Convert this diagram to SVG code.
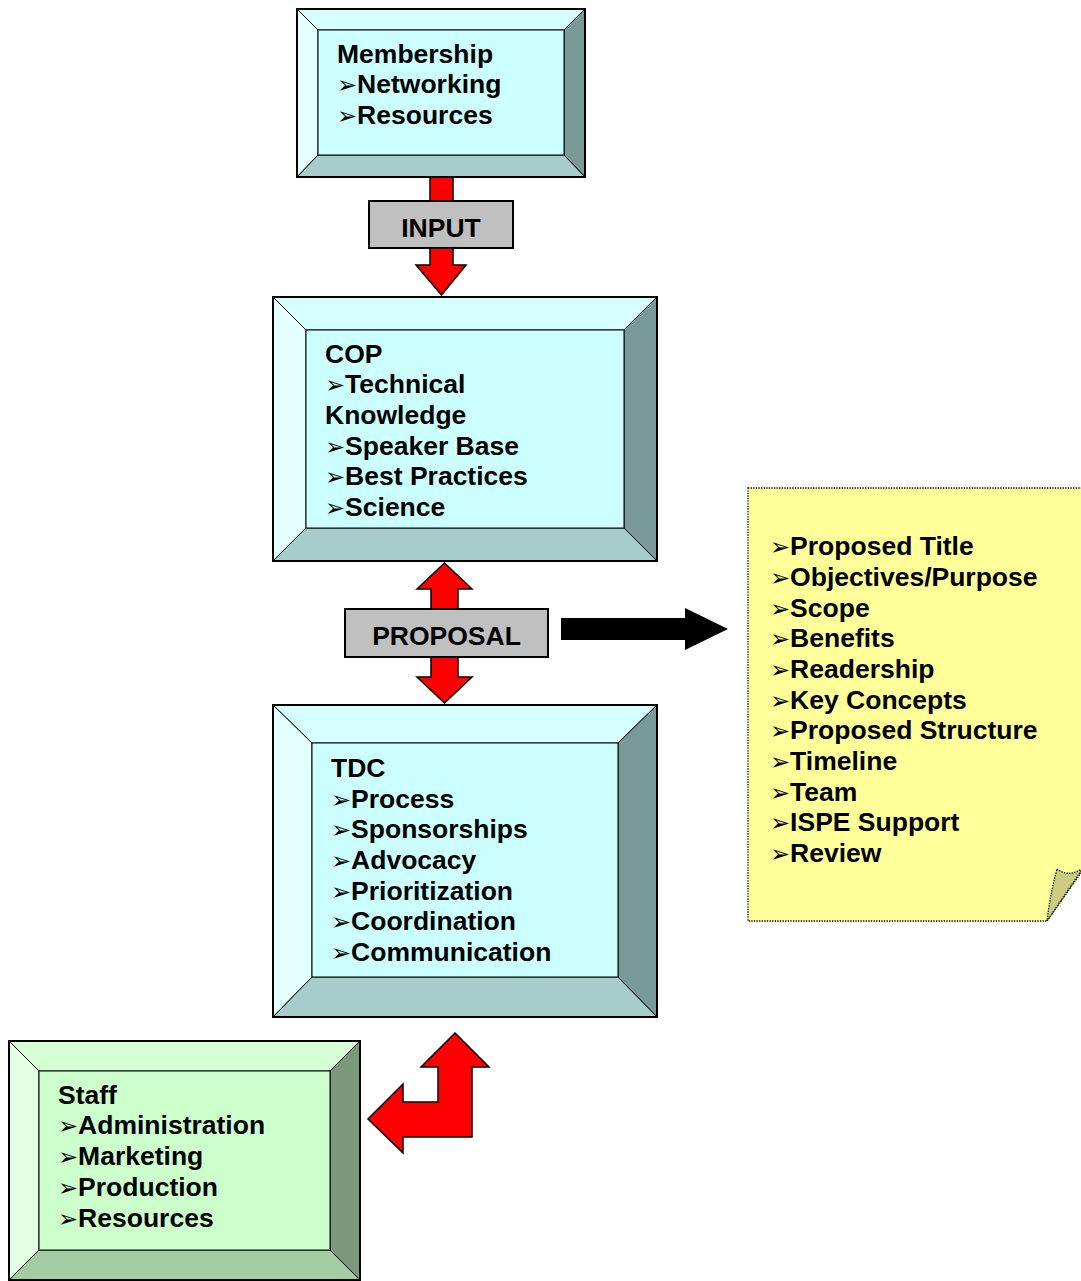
<svg xmlns="http://www.w3.org/2000/svg" width="1081" height="1281" viewBox="0 0 1081 1281">
<style>
text{font-family:"Liberation Sans",Arial,sans-serif;font-weight:bold;font-size:26.5px;fill:#000}
.b{font-family:"DejaVu Sans",sans-serif;font-weight:normal;font-size:24px}
.bev{stroke:#000;stroke-width:1}
.out{fill:none;stroke:#000;stroke-width:2}
.ct{fill:#d6ffff}.cl{fill:#e3ffff}.ci{fill:#ccffff}.cb{fill:#a6cccc}.cr{fill:#7a9999}
.gt{fill:#d6ffd6}.gl{fill:#e3ffe3}.gi{fill:#ccffcc}.gb{fill:#a3cca3}.gr{fill:#7a997a}
.red{fill:#ff0000;stroke:#000;stroke-width:1.5;stroke-linejoin:miter}
.lbl{fill:#c0c0c0;stroke:#000;stroke-width:2}
</style>
<rect width="1081" height="1281" fill="#fff"/>
<g id="connectors">
<polygon class="red" points="430,177 453,177 453,265 466,265 441.5,295 416,265 430,265"/>
<polygon class="red" points="444.5,563 472,589 458,589 458,677 472,677 444.5,703 417,677 431,677 431,589 417,589"/>
<polygon fill="#000" points="561,618 685,618 685,608 728,629 685,650 685,640 561,640"/>
<polygon class="red" points="455,1033 489,1067 472,1067 472,1137 403,1137 403,1153 368,1119 403,1084 403,1102 438,1102 438,1067 421,1067"/>
</g>
<g id="input">
<rect class="lbl" x="369" y="201" width="144" height="47"/>
<text x="441" y="237" text-anchor="middle">INPUT</text>
</g>
<g id="proposal">
<rect class="lbl" x="345" y="609" width="203" height="48"/>
<text x="446.5" y="645" text-anchor="middle">PROPOSAL</text>
</g>
<g id="membership">
<polygon class="bev ct" points="297,9 585,9 564,30 318,30"/>
<polygon class="bev cl" points="297,9 318,30 318,155 297,177"/>
<polygon class="bev cr" points="585,9 585,177 564,155 564,30"/>
<polygon class="bev cb" points="297,177 318,155 564,155 585,177"/>
<rect class="bev ci" x="318" y="30" width="246" height="125"/>
<rect class="out" x="297" y="9" width="288" height="168"/>
<text x="337" y="63">Membership</text>
<text x="337" y="93"><tspan class="b">➢</tspan>Networking</text>
<text x="337" y="124"><tspan class="b">➢</tspan>Resources</text>
</g>
<g id="cop">
<polygon class="bev ct" points="273,297 657,297 624,330 306,330"/>
<polygon class="bev cl" points="273,297 306,330 306,528 273,561"/>
<polygon class="bev cr" points="657,297 657,561 624,528 624,330"/>
<polygon class="bev cb" points="273,561 306,528 624,528 657,561"/>
<rect class="bev ci" x="306" y="330" width="318" height="198"/>
<rect class="out" x="273" y="297" width="384" height="264"/>
<text x="325" y="363">COP</text>
<text x="325" y="393"><tspan class="b">➢</tspan>Technical</text>
<text x="325" y="424">Knowledge</text>
<text x="325" y="455"><tspan class="b">➢</tspan>Speaker Base</text>
<text x="325" y="485"><tspan class="b">➢</tspan>Best Practices</text>
<text x="325" y="516"><tspan class="b">➢</tspan>Science</text>
</g>
<g id="tdc">
<polygon class="bev ct" points="273,705 657,705 618,743 312,743"/>
<polygon class="bev cl" points="273,705 312,743 312,977 273,1017"/>
<polygon class="bev cr" points="657,705 657,1017 618,977 618,743"/>
<polygon class="bev cb" points="273,1017 312,977 618,977 657,1017"/>
<rect class="bev ci" x="312" y="743" width="306" height="234"/>
<rect class="out" x="273" y="705" width="384" height="312"/>
<text x="331" y="777">TDC</text>
<text x="331" y="808"><tspan class="b">➢</tspan>Process</text>
<text x="331" y="838"><tspan class="b">➢</tspan>Sponsorships</text>
<text x="331" y="869"><tspan class="b">➢</tspan>Advocacy</text>
<text x="331" y="900"><tspan class="b">➢</tspan>Prioritization</text>
<text x="331" y="930"><tspan class="b">➢</tspan>Coordination</text>
<text x="331" y="961"><tspan class="b">➢</tspan>Communication</text>
</g>
<g id="staff">
<polygon class="bev gt" points="9,1041 360,1041 330,1071 39,1071"/>
<polygon class="bev gl" points="9,1041 39,1071 39,1250 9,1280"/>
<polygon class="bev gr" points="360,1041 360,1280 330,1250 330,1071"/>
<polygon class="bev gb" points="9,1280 39,1250 330,1250 360,1280"/>
<rect class="bev gi" x="39" y="1071" width="291" height="179"/>
<rect class="out" x="9" y="1041" width="351" height="239"/>
<text x="58" y="1104">Staff</text>
<text x="58" y="1134"><tspan class="b">➢</tspan>Administration</text>
<text x="58" y="1165"><tspan class="b">➢</tspan>Marketing</text>
<text x="58" y="1196"><tspan class="b">➢</tspan>Production</text>
<text x="58" y="1227"><tspan class="b">➢</tspan>Resources</text>
</g>
<g id="note">
<path d="M748,488 H1083 V870 L1047,921 H748 Z" fill="#ffff99" stroke="#000" stroke-width="1.3" stroke-dasharray="1.3,1.3"/>
<path d="M1057,869 Q1069,878 1083,868 L1047,921 Q1050,895 1057,869 Z" fill="#cccc80" stroke="#000" stroke-width="1.3" stroke-dasharray="1.3,1.3"/>
<text x="770" y="555"><tspan class="b">➢</tspan>Proposed Title</text>
<text x="770" y="586"><tspan class="b">➢</tspan>Objectives/Purpose</text>
<text x="770" y="617"><tspan class="b">➢</tspan>Scope</text>
<text x="770" y="647"><tspan class="b">➢</tspan>Benefits</text>
<text x="770" y="678"><tspan class="b">➢</tspan>Readership</text>
<text x="770" y="709"><tspan class="b">➢</tspan>Key Concepts</text>
<text x="770" y="739"><tspan class="b">➢</tspan>Proposed Structure</text>
<text x="770" y="770"><tspan class="b">➢</tspan>Timeline</text>
<text x="770" y="801"><tspan class="b">➢</tspan>Team</text>
<text x="770" y="831"><tspan class="b">➢</tspan>ISPE Support</text>
<text x="770" y="862"><tspan class="b">➢</tspan>Review</text>
</g>
</svg>
